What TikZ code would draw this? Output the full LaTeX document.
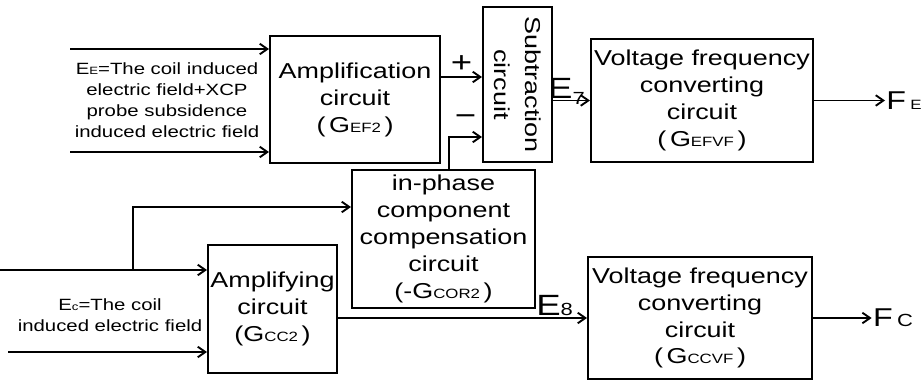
\documentclass[tikz,border=0pt]{standalone}
\usepackage{fontspec}
\usepackage{graphicx}
\setmainfont[FakeStretch=1.25]{Liberation Sans}
\usetikzlibrary{arrows.meta}
\newcommand{\gsub}[1]{{\fontsize{11.5}{11.5}\selectfont #1}}
\newcommand{\nsub}[1]{{\fontsize{9}{9}\selectfont #1}}
\newcommand{\lsub}[1]{{\fontsize{15}{15}\selectfont #1}}

\begin{document}
\begin{tikzpicture}[
        >={Straight Barb[length=6.5pt,width=9pt]},
        font=\fontsize{18.4}{23}\selectfont,
        block/.style={
            rectangle,
            draw=black,
            line width=1.7pt,
            align=center,
            inner sep=1pt
        },
        note/.style={
            align=center,
            inner sep=1pt,
            font=\fontsize{13.9}{17.9}\selectfont
        },
        sign/.style={
            inner sep=1pt,
            font=\fontsize{25}{25}\selectfont
        },
        outlabel/.style={
            anchor=west,
            inner sep=1pt,
            font=\fontsize{22}{22}\selectfont
        },
        arrow/.style={
            ->,
            line width=1.6pt,
            draw=black
        }
    ]

    \useasboundingbox (0,0) rectangle (27.63,11.4);

    \node[block, minimum width=5.1cm, minimum height=3.81cm] (amp) at (10.65,8.415)
    {Amplification\\circuit\\(\,G\gsub{EF2}\,)};

    \node[block, minimum width=2.07cm, minimum height=4.65cm] (sub) at (15.525,8.865)
    {\rotatebox{-90}{\shortstack{Subtraction\\[10pt]circuit}}};

    \node[block, minimum width=6.66cm, minimum height=3.69cm] (vfe) at (21.06,8.385)
    {Voltage frequency\\converting\\circuit\\(\,G\gsub{EFVF}\,)};

    \node[block, minimum width=5.49cm, minimum height=4.14cm] (comp) at (13.305,4.23)
    {in-phase\\component\\compensation\\circuit\\(-G\gsub{COR2}\,)};

    \node[block, minimum width=3.87cm, minimum height=3.84cm] (ampc) at (8.175,2.13)
    {Amplifying\\circuit\\(G\gsub{CC2}\,)};

    \node[block, minimum width=6.72cm, minimum height=3.66cm] (vfc) at (21.0,1.86)
    {Voltage frequency\\converting\\circuit\\(\,G\gsub{CCVF}\,)};

    \node[note] (etext) at (5.01,8.4)
    {E\nsub{E}=The coil induced\\electric field+XCP\\probe subsidence\\induced electric field};

    \node[note] (ctext) at (3.3,1.95)
    {E\nsub{c}=The coil\\induced electric field};

    \node[outlabel] (fe) at (26.55,8.385) {F\,\gsub{E}};
    \node[outlabel] (fc) at (26.15,1.86) {F\,\lsub{C}};

    \coordinate (ein1) at (2.1,9.93);
    \coordinate (ein2) at (2.1,6.84);
    \coordinate (pplus) at ([yshift=0.675cm]amp.east);
    \coordinate (pminus) at ([yshift=-1.575cm]sub.west);
    \coordinate (cin1) at (0,3.3);
    \coordinate (cin2) at (0.24,0.84);
    \coordinate (cbr) at (3.99,3.3);
    \coordinate (ccomp) at ([yshift=0.96cm]comp.west);

    \draw[arrow] (ein1) -- (ein1 -| amp.west);
    \draw[arrow] (ein2) -- (ein2 -| amp.west);
    \draw[arrow] (pplus) -- (pplus -| sub.west)
        node[sign, midway, above=2pt] (plus) {+};
    \draw[arrow] ([xshift=0.165cm]comp.north) |- (pminus)
        node[sign, pos=0.75, above=8pt] (minus) {−};
    \draw[arrow] (sub.east |- vfe.west) -- (vfe.west)
        node[sign, midway, above, xshift=-0.15cm] (e7) {E\raisebox{-5pt}[0pt][0pt]{\lsub{7}}};
    \draw[arrow] (vfe.east) -- (fe.west);

    \draw[arrow] (cin1) -- (cin1 -| ampc.west);
    \draw[arrow] (cin2) -- (cin2 -| ampc.west);
    \draw[arrow] (cbr) |- (ccomp);
    \draw[arrow] (ampc.east |- vfc.west) -- (vfc.west)
        node[sign, pos=0.87, above] (e8) {E\lsub{8}};
    \draw[arrow] (vfc.east) -- (fc.west);

    \end{tikzpicture}
\end{document}
